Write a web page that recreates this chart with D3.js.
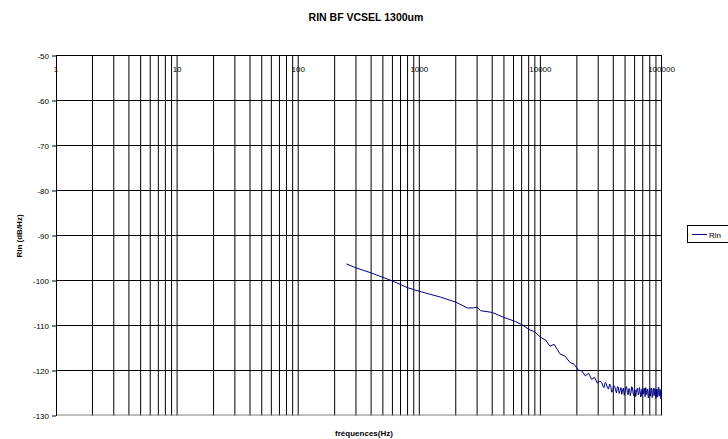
<!DOCTYPE html>
<html><head><meta charset="utf-8">
<script src="https://cdn.jsdelivr.net/npm/d3@7"></script>
<style>body{margin:0;background:#fff}svg{display:block;font-family:"Liberation Sans",Arial,sans-serif}</style>
</head><body><svg id="c" width="728" height="439"></svg>
<script>
const title = "RIN BF VCSEL 1300um";
const xTitle = "fréquences(Hz)";
const yTitle = "Rln (dB/Hz)";
const seriesName = "Rln";
const xTickValues = [1, 10, 100, 1000, 10000, 100000];
const xTickLabels = ["1", "10", "100", "1000", "10000", "100000"];
const yTickValues = [-50, -60, -70, -80, -90, -100, -110, -120, -130];

const freqHz = [250, 300, 400, 500, 600, 800, 1000, 1500, 2000, 2500,
  2800, 3000, 3200, 4000, 5000, 6200, 7000, 8200, 9000, 10000,
  11000, 12000, 13000, 14500, 16000, 17500, 19000, 20500, 22000, 23500,
  25000, 26500, 28000, 29500, 31000,
  32000, 32750, 33500, 34250, 35000, 35750, 36500, 37250, 38000, 38750,
  39500, 40250, 41000, 41750, 42500, 43250, 44000, 44750, 45500, 46250,
  47000, 47750, 48500, 49250, 50000, 50750, 51500, 52250, 53000, 53750,
  54500, 55250, 56000, 56750, 57500, 58250, 59000, 59750, 60500, 61250,
  62000, 62750, 63500, 64250, 65000, 65750, 66500, 67250, 68000, 68750,
  69500, 70250, 71000, 71750, 72500, 73250, 74000, 74750, 75500, 76250,
  77000, 77750, 78500, 79250, 80000, 80750, 81500, 82250, 83000, 83750,
  84500, 85250, 86000, 86750, 87500, 88250, 89000, 89750, 90500, 91250,
  92000, 92750, 93500, 94250, 95000, 95750, 96500, 97250, 98000, 98750,
  99500, 100000];
const rinDb = [-96.3, -97.2, -98.3, -99.3, -100.1, -101.6, -102.4, -103.7, -104.8, -106.1,
  -106.1, -105.9, -106.7, -107.1, -108.2, -109.1, -109.8, -111.0, -111.4, -112.6,
  -113.2, -114.6, -114.2, -116.3, -116.8, -118.2, -118.6, -119.9, -120.1, -121.2,
  -120.6, -122.0, -121.5, -122.8, -122.4,
  -122.6, -123.4, -123.8, -122.7, -122.9, -123.9, -124.1, -123.0, -123.3, -124.8,
  -124.6, -123.4, -123.5, -124.3, -125.0, -123.6, -123.7, -125.1, -124.4, -123.8,
  -125.3, -124.2, -123.9, -125.5, -124.8, -123.7, -123.6, -124.9, -125.4, -124.0,
  -124.1, -125.6, -124.9, -123.6, -123.8, -125.0, -125.6, -124.2, -124.3, -125.8,
  -124.9, -124.1, -123.9, -125.4, -125.2, -123.8, -124.4, -125.9, -125.7, -124.3,
  -124.0, -125.3, -125.1, -123.9, -124.5, -125.8, -123.8, -124.9, -125.3, -124.1,
  -124.6, -126.1, -125.8, -124.0, -124.2, -125.7, -125.0, -123.9, -124.4, -126.0,
  -125.5, -124.2, -123.9, -125.6, -125.2, -124.0, -124.7, -126.2, -126.0, -124.1,
  -124.3, -125.9, -125.4, -123.7, -123.8, -125.7, -125.6, -124.2, -124.5, -126.3,
  -125.9, -124.6];

const svg = d3.select("#c");
const L = 56, R = 661.5, T = 55.5, B = 415.5;
const x = d3.scaleLog().domain([1, 100000]).range([L, R]);
const y = d3.scaleLinear().domain([-130, -50]).range([B, T]);

// vertical grid
const vg = [];
for (let d = 0; d < 5; d++) for (let m = 1; m <= 9; m++) { const f = m * Math.pow(10, d); if (f > 1) vg.push(f); }
vg.push(100000);
svg.append("g").selectAll("line").data(vg).join("line")
  .attr("x1", d => x(d)).attr("x2", d => x(d)).attr("y1", T).attr("y2", B)
  .attr("stroke", "#000").attr("stroke-width", 1);
// horizontal grid
svg.append("g").selectAll("line").data(yTickValues.filter(v => v > -130)).join("line")
  .attr("x1", L).attr("x2", R).attr("y1", d => y(d)).attr("y2", d => y(d))
  .attr("stroke", "#000").attr("stroke-width", 1).attr("shape-rendering", "crispEdges");
// bottom axis line
svg.append("line").attr("x1", L).attr("x2", R).attr("y1", B - 0.5).attr("y2", B - 0.5).attr("stroke", "#808080");
// left axis
svg.append("line").attr("x1", L + 0.5).attr("x2", L + 0.5).attr("y1", T).attr("y2", B).attr("stroke", "#000").attr("shape-rendering", "crispEdges");

// y axis
const yAxis = d3.axisLeft(y).tickValues(yTickValues).tickSize(4).tickPadding(3).tickFormat(d => String(d));
const ga = svg.append("g").attr("transform", `translate(${L},0)`).call(yAxis);
ga.select(".domain").remove();
ga.selectAll("text").attr("font-size", 8).attr("font-family", "Liberation Sans, Arial, sans-serif").attr("fill", "#000");

// x labels inside top
svg.append("g").selectAll("text").data(xTickValues).join("text")
  .attr("x", d => x(d)).attr("y", 72).attr("text-anchor", "middle")
  .attr("font-size", 8).text((d, i) => xTickLabels[i]);

// data line
const line = d3.line().x((d, i) => x(freqHz[i])).y(d => y(d));
svg.append("path").datum(rinDb).attr("d", line).attr("fill", "none").attr("stroke", "#000080").attr("stroke-width", 1);

// titles
svg.append("text").attr("x", 366).attr("y", 21).attr("text-anchor", "middle").attr("font-size", 10.5).attr("font-weight", "bold").text(title);
svg.append("text").attr("x", 364).attr("y", 436).attr("text-anchor", "middle").attr("font-size", 8).attr("font-weight", "bold").text(xTitle);
svg.append("text").attr("transform", "translate(22,236) rotate(-90)").attr("text-anchor", "middle").attr("font-size", 8).attr("font-weight", "bold").text(yTitle);

// legend
const lg = svg.append("g");
lg.append("rect").attr("x", 687.5).attr("y", 225.5).attr("width", 50).attr("height", 17).attr("fill", "#fff").attr("stroke", "#000");
lg.append("line").attr("x1", 692).attr("x2", 707).attr("y1", 234.5).attr("y2", 234.5).attr("stroke", "#000080");
lg.append("text").attr("x", 709).attr("y", 237.5).attr("font-size", 8).text(seriesName);
</script></body></html>
